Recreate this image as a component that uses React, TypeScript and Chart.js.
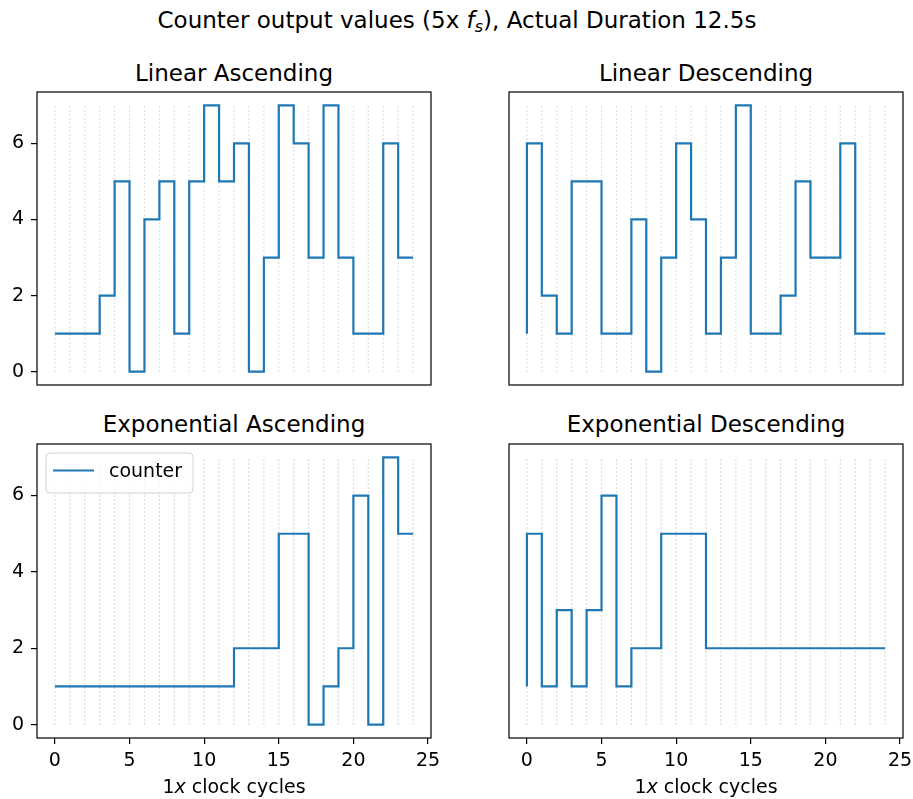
import React, { useEffect, useRef } from 'react';
import { Chart, registerables } from 'chart.js';

Chart.register(...registerables);

// ---- data ----
const clockCycles = [0, 1, 2, 3, 4, 5, 6, 7, 8, 9, 10, 11, 12, 13, 14, 15, 16, 17, 18, 19, 20, 21, 22, 23, 24];
const linearAscending = [1, 1, 1, 1, 2, 5, 0, 4, 5, 1, 5, 7, 5, 6, 0, 3, 7, 6, 3, 7, 3, 1, 1, 6, 3];
const linearDescending = [1, 6, 2, 1, 5, 5, 1, 1, 4, 0, 3, 6, 4, 1, 3, 7, 1, 1, 2, 5, 3, 3, 6, 1, 1];
const exponentialAscending = [1, 1, 1, 1, 1, 1, 1, 1, 1, 1, 1, 1, 1, 2, 2, 2, 5, 5, 0, 1, 2, 6, 0, 7, 5];
const exponentialDescending = [1, 5, 1, 3, 1, 3, 6, 1, 2, 2, 5, 5, 5, 2, 2, 2, 2, 2, 2, 2, 2, 2, 2, 2, 2];
const xTickValues = [0, 5, 10, 15, 20, 25];
const yTickValues = [0, 2, 4, 6];
const guideLow = 0;
const guideHigh = 7;
const seriesLabel = 'counter';
const panelTitles = ['Linear Ascending', 'Linear Descending', 'Exponential Ascending', 'Exponential Descending'];

const FONT = "'DejaVu Sans', 'Noto Sans', sans-serif";
const LINE_COLOR = '#1f77b4';

type Panel = {
  title: string;
  values: number[];
  showX: boolean;
  showY: boolean;
  legend: boolean;
  left: number;
  top: number;
  width: number;
  height: number;
  pad: { left: number; top: number; right: number; bottom: number };
  yWidth: number;
  xHeight: number;
  titleX: number;
  titleY: number;
};

const panels: Panel[] = [
  { title: panelTitles[0], values: linearAscending, showX: false, showY: true, legend: false,
    left: 0, top: 80, width: 460, height: 320, pad: { left: 0, top: 12, right: 29, bottom: 15 }, yWidth: 37, xHeight: 0, titleX: 234, titleY: 62 },
  { title: panelTitles[1], values: linearDescending, showX: false, showY: false, legend: false,
    left: 480, top: 80, width: 433, height: 320, pad: { left: 29, top: 12, right: 10, bottom: 15 }, yWidth: 0, xHeight: 0, titleX: 706, titleY: 62 },
  { title: panelTitles[2], values: exponentialAscending, showX: true, showY: true, legend: true,
    left: 0, top: 432, width: 460, height: 345, pad: { left: 0, top: 12, right: 29, bottom: 0 }, yWidth: 37, xHeight: 39, titleX: 234, titleY: 413 },
  { title: panelTitles[3], values: exponentialDescending, showX: true, showY: false, legend: false,
    left: 480, top: 432, width: 433, height: 345, pad: { left: 29, top: 12, right: 10, bottom: 0 }, yWidth: 0, xHeight: 39, titleX: 706, titleY: 413 },
];

const framePlugin = {
  id: 'frame',
  afterDatasetsDraw(chart: any) {
    const { left, top, right, bottom } = chart.chartArea;
    const ctx = chart.ctx;
    ctx.save();
    ctx.strokeStyle = '#000';
    ctx.lineWidth = 1.2;
    ctx.strokeRect(left, top, right - left, bottom - top);
    ctx.restore();
  },
};

const insideLegendPlugin = {
  id: 'insideLegend',
  afterDraw(chart: any, _args: any, opts: any) {
    if (!opts || !opts.show) return;
    const { left, top } = chart.chartArea;
    const ctx = chart.ctx;
    const x = left + 9;
    const y = top + 9;
    const w = 147;
    const h = 40;
    const r = 4;
    ctx.save();
    ctx.beginPath();
    ctx.moveTo(x + r, y);
    ctx.lineTo(x + w - r, y);
    ctx.quadraticCurveTo(x + w, y, x + w, y + r);
    ctx.lineTo(x + w, y + h - r);
    ctx.quadraticCurveTo(x + w, y + h, x + w - r, y + h);
    ctx.lineTo(x + r, y + h);
    ctx.quadraticCurveTo(x, y + h, x, y + h - r);
    ctx.lineTo(x, y + r);
    ctx.quadraticCurveTo(x, y, x + r, y);
    ctx.closePath();
    ctx.fillStyle = 'rgba(255,255,255,0.8)';
    ctx.fill();
    ctx.strokeStyle = '#d0d0d0';
    ctx.lineWidth = 1;
    ctx.stroke();
    const ds = chart.data.datasets[0];
    ctx.strokeStyle = ds.borderColor;
    ctx.lineWidth = ds.borderWidth;
    ctx.beginPath();
    ctx.moveTo(x + 7, y + 17.5);
    ctx.lineTo(x + 48, y + 17.5);
    ctx.stroke();
    ctx.fillStyle = '#000';
    ctx.font = `19px ${FONT}`;
    ctx.textBaseline = 'middle';
    ctx.textAlign = 'left';
    ctx.fillText(ds.label, x + 63, y + 19);
    ctx.restore();
  },
};

function PanelChart({ p }: { p: Panel }) {
  const ref = useRef<HTMLCanvasElement | null>(null);
  useEffect(() => {
    if (!ref.current) return;
    const guides: any[] = [];
    clockCycles.forEach((c) => {
      guides.push({ x: c, y: guideLow });
      guides.push({ x: c, y: guideHigh });
      guides.push({ x: c, y: null });
    });
    const chart = new Chart(ref.current, {
      type: 'line',
      data: {
        datasets: [
          {
            label: seriesLabel,
            data: clockCycles.map((c, i) => ({ x: c, y: p.values[i] })),
            stepped: 'after',
            borderColor: LINE_COLOR,
            backgroundColor: LINE_COLOR,
            borderWidth: 2.2,
            pointRadius: 0,
            fill: false,
            order: 0,
          } as any,
          {
            label: 'guides',
            data: guides,
            borderColor: '#cfcfcf',
            borderWidth: 1.2,
            borderDash: [1.3, 2.7],
            pointRadius: 0,
            fill: false,
            spanGaps: false,
            order: 1,
          } as any,
        ],
      },
      options: {
        animation: false,
        responsive: false,
        maintainAspectRatio: false,
        events: [],
        layout: { padding: p.pad },
        plugins: {
          legend: { display: false },
          tooltip: { enabled: false },
          title: { display: false },
          insideLegend: { show: p.legend },
        } as any,
        scales: {
          x: {
            type: 'linear',
            min: -1.2,
            max: 25.2,
            afterBuildTicks: (s: any) => {
              s.ticks = xTickValues.map((v) => ({ value: v }));
            },
            afterFit: (s: any) => {
              s.height = p.xHeight;
              s.paddingLeft = 0;
              s.paddingRight = 0;
              s.paddingTop = 0;
              s.paddingBottom = 0;
            },
            border: { display: false },
            grid: {
              display: p.showX,
              drawOnChartArea: false,
              drawTicks: true,
              tickLength: 6,
              color: '#000',
              lineWidth: 1.2,
            },
            ticks: {
              display: p.showX,
              padding: 6,
              color: '#000',
              autoSkip: false,
              maxRotation: 0,
              font: { family: FONT, size: 19 },
            },
          },
          y: {
            type: 'linear',
            min: -0.35,
            max: 7.35,
            afterBuildTicks: (s: any) => {
              s.ticks = yTickValues.map((v) => ({ value: v }));
            },
            afterFit: (s: any) => {
              s.width = p.yWidth;
              s.paddingLeft = 0;
              s.paddingRight = 0;
              s.paddingTop = 0;
              s.paddingBottom = 0;
            },
            border: { display: false },
            grid: {
              display: p.showY,
              drawOnChartArea: false,
              drawTicks: true,
              tickLength: 6,
              color: '#000',
              lineWidth: 1.2,
            },
            ticks: {
              display: p.showY,
              padding: 7,
              color: '#000',
              autoSkip: false,
              font: { family: FONT, size: 19 },
            },
          },
        },
      } as any,
      plugins: [framePlugin, insideLegendPlugin],
    });
    return () => chart.destroy();
  }, [p]);
  return (
    <canvas
      ref={ref}
      width={p.width}
      height={p.height}
      style={{ position: 'absolute', left: p.left, top: p.top, width: p.width, height: p.height }}
    />
  );
}

const textStyle: React.CSSProperties = {
  position: 'absolute',
  fontFamily: FONT,
  color: '#000',
  whiteSpace: 'nowrap',
  lineHeight: 1,
  transform: 'translateX(-50%)',
};

export default function App() {
  return (
    <div style={{ position: 'absolute', left: 0, top: 0, width: 913, height: 799, background: '#fff', overflow: 'hidden' }}>
      <div style={{ ...textStyle, left: 457, top: 9, fontSize: 23 }}>
        Counter output values (5x <i>f</i>
        <span style={{ fontSize: 16, fontStyle: 'italic', position: 'relative', top: 4 }}>s</span>), Actual Duration 12.5s
      </div>
      {panels.map((p) => (
        <div key={p.title + 't'} style={{ ...textStyle, left: p.titleX, top: p.titleY, fontSize: 23 }}>
          {p.title}
        </div>
      ))}
      {panels.map((p) => (
        <PanelChart key={p.title} p={p} />
      ))}
      <div style={{ ...textStyle, left: 234, top: 777, fontSize: 19 }}>
        1<i>x</i> clock cycles
      </div>
      <div style={{ ...textStyle, left: 706, top: 777, fontSize: 19 }}>
        1<i>x</i> clock cycles
      </div>
    </div>
  );
}
